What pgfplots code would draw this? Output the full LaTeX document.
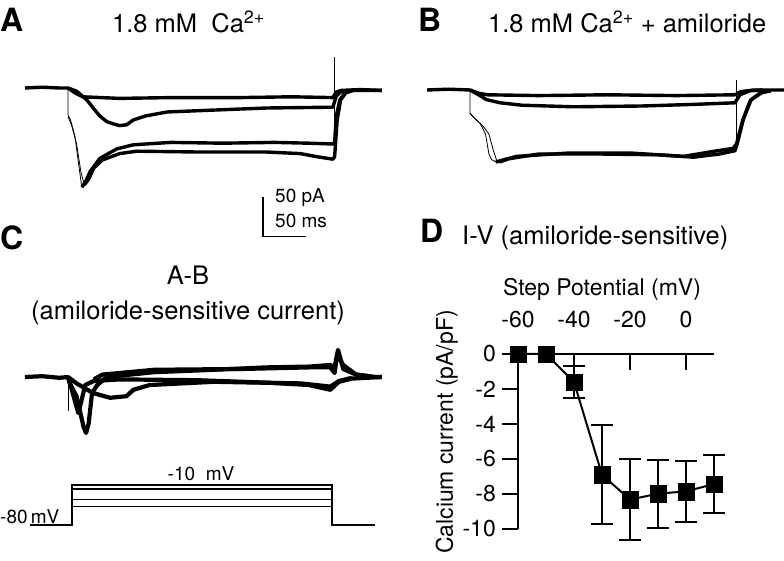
\documentclass[border=0pt]{standalone}
\usepackage{fontspec}
\setmainfont{TeX Gyre Heros}
\usepackage{pgfplots}
\usetikzlibrary{plotmarks}
\pgfplotsset{compat=1.18}
\newcommand\fT{\fontsize{25.5}{29}\selectfont}
\newcommand\fL{\fontsize{32}{35}\selectfont\bfseries}
\newcommand\fS{\fontsize{19}{22}\selectfont}
\newcommand\fD{\fontsize{23}{27}\selectfont}
\pgfplotsset{
  trace/.style={axis lines=none, clip=false, x=0.86pt, xmin=-50, xmax=365, anchor=south west},
  trc/.style={black, line width=3.4pt, line join=round, no marks},
  trw/.style={black, line width=4.2pt, line join=round, no marks},
  thn/.style={black, line width=0.8pt, no marks},
}
\begin{document}
\begin{tikzpicture}[x=1pt,y=1pt]
\path[use as bounding box] (0,0) rectangle (784,560);

% ---------- Panel A ----------
\begin{axis}[trace, y=0.8pt, ymin=-200, ymax=60, at={(25pt,312pt)}]
\addplot[trc] coordinates {(-50,0)(-30,1)(-10,0)(0,0)(8,-6)(17,-11)(60,-13)(120,-12)(200,-12)(260,-11)(308,-12)(312,-5)(318,-3)(340,-2)(365,-3)};
\addplot[trc] coordinates {(0,0)(10,-4)(22,-15)(30,-26)(37,-35)(45,-42)(53,-45)(60,-47)(68,-46)(76,-40)(90,-35)(115,-30)(160,-28)(231,-25)(308,-24)(312,-10)(318,-4)(330,-3)(365,-3)};
\addplot[thn] coordinates {(0,0)(0,-34)(3,-40)(8,-60)(13,-100)(16,-124)};
\addplot[thn] coordinates {(0,-36)(4,-46)(10,-70)(15,-105)(19,-121)};
\addplot[trc] coordinates {(16,-124)(20,-118)(26,-104)(37,-88)(57,-76)(76,-71)(120,-68)(180,-69)(240,-68)(280,-69)(308,-70)(310,-68)(312,-35)(316,-15)(322,-6)(330,-3)};
\addplot[trc] coordinates {(19,-121)(24,-114)(30,-100)(40,-90)(60,-82)(80,-79)(150,-80)(230,-80)(270,-82)(290,-86)(308,-89)(310,-86)(313,-40)(317,-15)(323,-6)(332,-3)};
\addplot[thn] coordinates {(310,-89)(310,39)};
% scale bar 50 pA / 50 ms
\addplot[black, line width=1.1pt, no marks] coordinates {(226.7,-136)(226.7,-186)(276.7,-186)};
\end{axis}

% ---------- Panel B ----------
\begin{axis}[trace, y=0.8pt, ymin=-200, ymax=60, at={(427pt,310pt)}]
\addplot[trc] coordinates {(-50,0)(-25,1)(0,0)(10,-4)(20,-6)(80,-7)(160,-6)(240,-7)(308,-6)(315,-2)(330,0)(365,0)};
\addplot[trc] coordinates {(0,0)(10,-6)(19,-12)(35,-16)(60,-19)(120,-21)(200,-20)(260,-18)(308,-16)(314,-6)(325,-1)(340,0)};
\addplot[thn] coordinates {(0,0)(0,-29)(3,-33)(12,-42)(18,-55)(22,-80)(25,-87)(30,-90)};
\addplot[thn] coordinates {(0,-29)(5,-35)(15,-45)(22,-55)(27,-75)(31,-88)(34,-90)};
\addplot[trc] coordinates {(30,-90)(40,-87)(54,-83)(112,-79)(190,-79)(248,-83)(287,-76)(306,-73)(310,-67)(317,-38)(326,-13)(337,-4)(350,-1)};
\addplot[trc] coordinates {(34,-90)(45,-86)(80,-80)(150,-80)(220,-81)(260,-84)(290,-80)(308,-76)(310,-70)(318,-36)(327,-12)(340,-3)};
\addplot[thn] coordinates {(310,-67)(310,12)};
\end{axis}

% ---------- Panel C ----------
\begin{axis}[trace, y=0.8pt, ymin=-100, ymax=60, at={(25pt,103pt)}]
\addplot[trw] coordinates {(-50,0)(-30,1)(-10,-1)(0,0)(2,-8)(10,-24)(18,-62)(21,-70)(24,-58)(28,-20)(34,-10)(45,0)(100,6)(170,9)(230,12)(280,13)(305,15)(310,12)(314,34)(320,10)(335,3)(358,0)(365,0)};
\addplot[trw] coordinates {(0,0)(3,-10)(8,-30)(12,-45)(16,-28)(20,-10)(30,-5)(60,-3)(150,-4)(230,-7)(280,-10)(305,-16)(315,-6)(330,-2)(365,0)};
\addplot[trw] coordinates {(0,0)(10,-8)(29,-20)(49,-26)(68,-24)(76,-16)(95,-10)(170,-6)(271,-8)(305,-12)(315,-5)(330,-1)};
\addplot[trw] coordinates {(30,-3)(40,3)(100,9)(200,10)(280,12)(305,12)(310,5)(313,28)(320,15)(335,3)(350,1)};
\addplot[thn] coordinates {(0,0)(0,-43)};
\end{axis}

% ---------- Voltage protocol ----------
\begin{axis}[trace, y=0.5714pt, ymin=-90, ymax=0, at={(25pt,29.3pt)}]
\addplot[black, line width=1.2pt, no marks] coordinates {(-44,-80)(4.7,-80)(4.7,-10)(307,-10)(307,-80)(357,-80)};
\addplot[black, line width=1.2pt, no marks] coordinates {(4.7,-80)(4.7,-17)(307,-17)(307,-80)};
\addplot[black, line width=1.2pt, no marks] coordinates {(4.7,-80)(4.7,-36)(307,-36)(307,-80)};
\addplot[black, line width=1.2pt, no marks] coordinates {(4.7,-80)(4.7,-47)(307,-47)(307,-80)};
\end{axis}

% ---------- Panel D ----------
\begin{axis}[at={(518pt,31pt)}, anchor=south west, scale only axis, width=196pt, height=175pt,
  xmin=-60, xmax=10, ymin=-10, ymax=0, clip=false,
  axis x line*=top, axis y line*=left,
  axis line style={line width=2pt, black},
  xtick={-60,-40,-20,0}, xticklabels={-60,-40,-20,0},
  ytick={-10,-8,-6,-4,-2,0}, yticklabels={-10,-8,-6,-4,-2,0},
  xtick align=inside, ytick align=outside, major tick length=16pt,
  tick style={line width=1.3pt, black},
  tick label style={font=\fD},
  xticklabel style={anchor=base, yshift=26pt},
  yticklabel style={inner sep=0pt, xshift=-6pt},
  label style={font=\fD},
  xlabel={Step Potential (mV)},
  xlabel style={at={(axis description cs:0.4286,1.337)}, anchor=base},
  ylabel={Calcium current (pA/pF)},
  ylabel style={at={(axis description cs:-0.332,0.554)}, anchor=base},
]
\addplot[black, line width=2pt, only marks, mark=none,
  error bars/.cd, y dir=both, y explicit,
  error bar style={line width=2pt, black},
  error mark options={rotate=90, mark size=11pt, line width=2pt, black}]
  table[x=x, y=y, y error=e] {
x y e
-40 -1.6 0.9
-30 -6.9 2.83
-20 -8.32 2.32
-10 -7.98 1.95
0 -7.85 1.76
10 -7.43 1.67
};
\addplot[black, line width=2pt, no marks]
  table[x=x, y=y] {
x y
-60 0
-50 0
-40 -1.6
-30 -6.9
-20 -8.32
-10 -7.98
0 -7.85
10 -7.43
};
\addplot[only marks, mark=square*, mark size=8.3pt, black, mark options={fill=black, draw=black, line width=0.3pt}]
  table[x=x, y=y] {
x y
-60 0
-50 0
-40 -1.6
-30 -6.9
-20 -8.32
-10 -7.98
0 -7.85
10 -7.43
};
\end{axis}

% ---------- Text ----------
\node[anchor=base west, inner sep=0] at (0,528) {\fL A};
\node[anchor=base west, inner sep=0] at (112,527) {\fT 1.8 mM\ \ Ca\textsuperscript{2+}};
\node[anchor=base west, inner sep=0] at (418,528) {\fL B};
\node[anchor=base west, inner sep=0] at (488,527) {\fT 1.8 mM Ca\textsuperscript{2+} + amiloride};
\node[anchor=base west, inner sep=0] at (0,310) {\fL C};
\node[anchor=base, inner sep=0] at (188,275) {\fT A-B};
\node[anchor=base, inner sep=0] at (188,240) {\fT (amiloride-sensitive current)};
\node[anchor=base west, inner sep=0] at (420,317) {\fL D};
\node[anchor=base west, inner sep=0] at (462,315) {\fT I-V (amiloride-sensitive)};
\node[anchor=base west, inner sep=0] at (275,357) {\fS 50 pA};
\node[anchor=base west, inner sep=0] at (275,332) {\fS 50 ms};
\node[anchor=base, inner sep=0] at (201,80) {\fS -10\ \ mV};
\node[anchor=base west, inner sep=0] at (0,37) {\fS -80\,mV};
\end{tikzpicture}
\end{document}
